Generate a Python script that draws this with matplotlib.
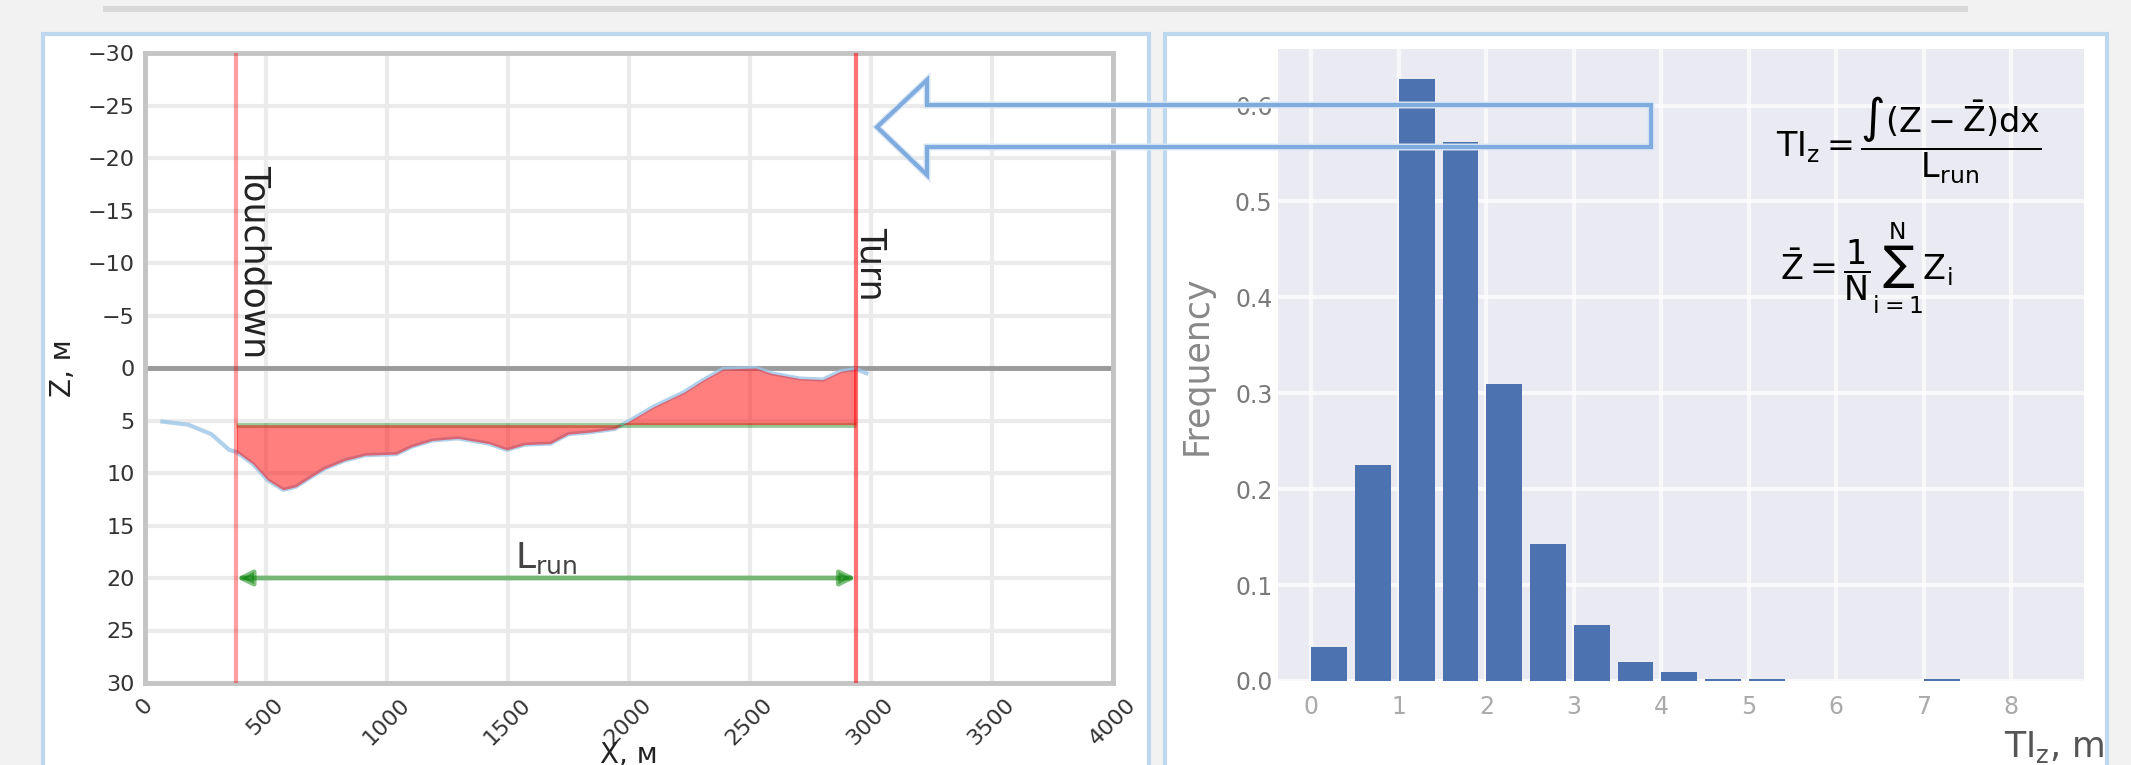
import numpy as np
import matplotlib.pyplot as plt
from matplotlib.patches import Rectangle, Polygon

plt.rcParams['font.family'] = ['DejaVu Sans']
plt.rcParams['mathtext.default'] = 'regular'

# Профиль полосы: расстояние X (м) и отметка Z (м)
profile_x = [74, 181, 276, 350, 380, 446, 510, 573, 626, 680, 743, 828, 913,
             1041, 1104, 1189, 1295, 1423, 1497, 1571, 1677, 1751, 1847, 1943,
             2006, 2102, 2229, 2304, 2389, 2526, 2590, 2707, 2803, 2877, 2940,
             2983]
profile_z = [5.1, 5.4, 6.3, 7.8, 8.0, 9.1, 10.7, 11.6, 11.3, 10.5, 9.6, 8.8,
             8.3, 8.2, 7.5, 6.9, 6.7, 7.2, 7.8, 7.3, 7.2, 6.3, 6.1, 5.8, 5.0,
             3.7, 2.3, 1.2, 0.1, 0.0, 0.5, 1.0, 1.1, 0.3, 0.1, 0.5]
touchdown_x = 380
turn_x = 2940
mean_z = 5.4

# Гистограмма TIz
bin_left = [0.0, 0.5, 1.0, 1.5, 2.0, 2.5, 3.0, 3.5, 4.0, 4.5, 5.0, 5.5, 6.0,
            6.5, 7.0]
freq = [0.035, 0.225, 0.628, 0.562, 0.31, 0.143, 0.058, 0.02, 0.009, 0.002,
        0.002, 0.0, 0.0, 0.0, 0.002]

W, H = 2131, 765


def fx(px):
    return px / W


def fy(py):
    return 1 - py / H


fig = plt.figure(figsize=(W / 100, H / 100), dpi=100, facecolor='#f2f2f2')

# фон слайда: линия сверху и две панели
fig.add_artist(Rectangle((fx(103), fy(12)), (1968 - 103) / W, 6 / H,
                         transform=fig.transFigure, fc='#d9d9d9', ec='none',
                         zorder=-2))
for x0, x1 in [(43, 1149), (1165, 2107)]:
    fig.add_artist(Rectangle((fx(x0), fy(820)), (x1 - x0) / W, (820 - 34) / H,
                             transform=fig.transFigure, fc='white',
                             ec='#bdd7ee', lw=3, zorder=-1))

# ---- левый график: профиль ----
ax1 = fig.add_axes([fx(144.5), fy(683), (1112.6 - 144.5) / W, (683 - 53) / H])
ax1.set_xlim(0, 4000)
ax1.set_ylim(30, -30)
ax1.set_xticks(np.arange(0, 4001, 500))
ax1.set_yticks(np.arange(-30, 31, 5))
ax1.grid(True, color='#ebebeb', lw=3)
ax1.set_axisbelow(True)
for s in ax1.spines.values():
    s.set_color('#c4c4c4')
    s.set_linewidth(3.5)
ax1.tick_params(length=0, labelsize=16, colors='#333333')
ax1.tick_params(axis='x', rotation=45, pad=8)
ax1.tick_params(axis='y', pad=7)
ax1.set_xlabel('X, м', fontsize=20, color='#222222')
ax1.set_ylabel('Z, м', fontsize=20, color='#222222')
ax1.xaxis.set_label_coords(0.5, -0.092)
ax1.yaxis.set_label_coords(-0.07, 0.5)

ax1.axhline(0, color='#9a9a9a', lw=3.5, zorder=2)
ax1.plot(profile_x, profile_z, color='#9cc5e6', lw=3, alpha=0.8, zorder=3)
ax1.hlines(mean_z, touchdown_x, turn_x, color='green', alpha=0.4, lw=3.5,
           zorder=4)
ax1.fill_between(profile_x[4:35], profile_z[4:35], mean_z, color='red',
                 alpha=0.5, lw=0, zorder=5)
ax1.axvline(touchdown_x, color='red', alpha=0.38, lw=3, zorder=6)
ax1.axvline(turn_x, color='red', alpha=0.55, lw=3, zorder=6)
ax1.text(touchdown_x + 5, -19.3, 'Touchdown', rotation=270, ha='left',
         va='top', fontsize=25, color='#222222', zorder=7)
ax1.text(turn_x - 8, -13.4, 'Turn', rotation=270, ha='left', va='top',
         fontsize=25, color='#222222', zorder=7)
ax1.annotate('', xy=(touchdown_x, 20), xytext=(turn_x, 20),
             arrowprops=dict(arrowstyle='<|-|>', color='green', alpha=0.5,
                             lw=3.5, shrinkA=0, shrinkB=0, mutation_scale=22),
             zorder=6)
ax1.text(1660, 19.8, '$L_{run}$', ha='center', va='bottom', fontsize=26,
         color='#444444')

# ---- правый график: гистограмма ----
ax2 = fig.add_axes([fx(1278), fy(681), (2084 - 1278) / W, (681 - 49) / H])
ax2.set_facecolor('#eaeaf2')
ax2.bar(bin_left, freq, width=0.41, align='edge', color='#4c72b0', zorder=3)
ax2.set_xlim(-0.38, 8.83)
ax2.set_ylim(0, 0.659)
ax2.set_xticks(range(0, 9))
ax2.set_yticks(np.arange(0, 0.61, 0.1))
ax2.set_yticklabels(['%.1f' % v for v in np.arange(0, 0.61, 0.1)])
ax2.grid(True, color='white', lw=3, alpha=0.7)
ax2.set_axisbelow(True)
for s in ax2.spines.values():
    s.set_visible(False)
ax2.tick_params(length=0, labelsize=17)
ax2.tick_params(axis='y', colors='#7a7a7a', pad=4)
ax2.tick_params(axis='x', colors='#aaaaaa', pad=10)
ax2.set_ylabel('Frequency', fontsize=25, color='#888888')
ax2.yaxis.set_label_coords(-0.08, 0.5)
ax2.set_xlabel('TI$_z$, m', fontsize=25, color='#555555', loc='right')
ax2.xaxis.set_label_coords(1.026, -0.076)

# формулы
fig.text(fx(1776), fy(140), r'$TI_{z}=\dfrac{\int(Z-\bar{Z})dx}{L_{run}}$',
         fontsize=24, color='black', ha='left', va='center', zorder=8)
fig.text(fx(1780), fy(268), r'$\bar{Z}=\dfrac{1}{N}\sum_{i=1}^{N}Z_i$',
         fontsize=24, color='black', ha='left', va='center', zorder=8)

# большая стрелка
arrow_px = [(877, 127), (927, 80), (927, 105), (1651, 105), (1651, 147),
            (927, 147), (927, 175)]
pts = [(fx(x), fy(y)) for x, y in arrow_px]
fig.add_artist(Polygon(pts, closed=True, transform=fig.transFigure,
                       fc='none', ec='#dbe7f5', lw=5, zorder=9))
fig.add_artist(Polygon(pts, closed=True, transform=fig.transFigure,
                       fc='none', ec='#76a5dc', lw=3, alpha=0.9, zorder=10))

fig.savefig('out.png', dpi=100, facecolor=fig.get_facecolor())
